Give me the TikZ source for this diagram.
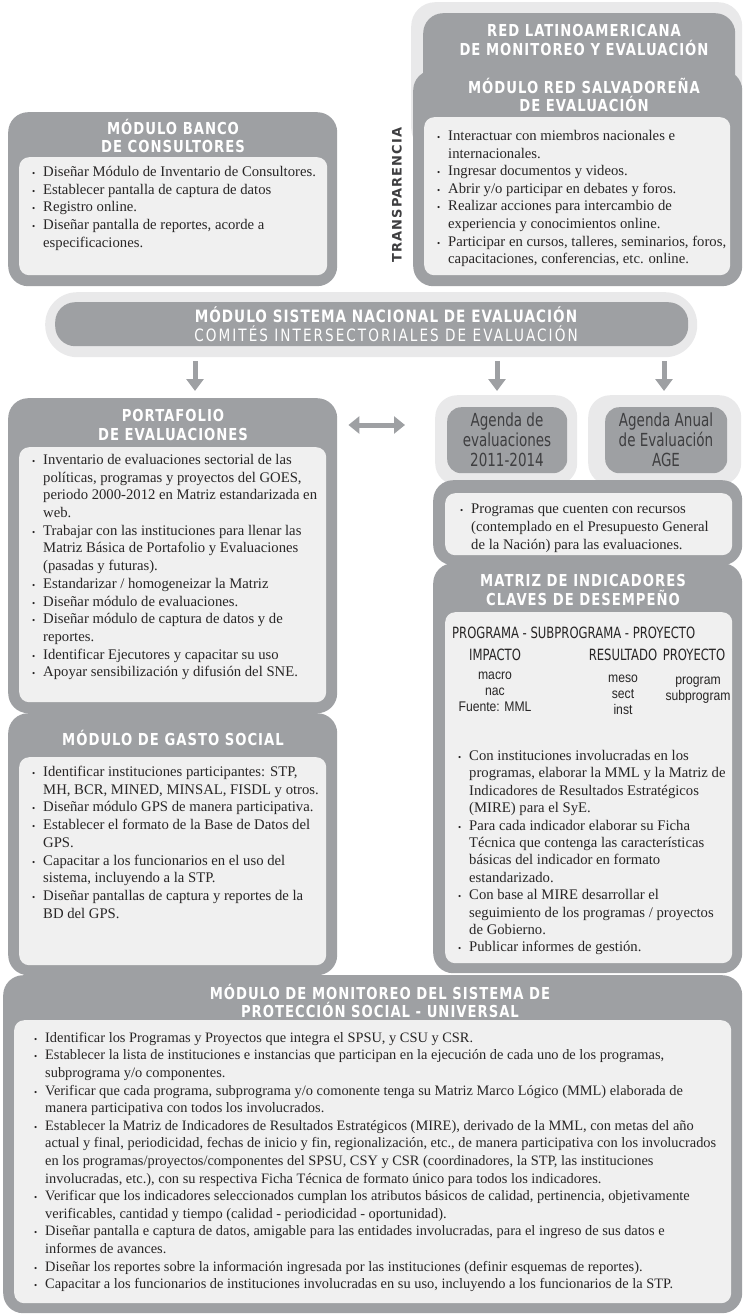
\documentclass[tikz,border=0pt]{standalone}
\usepackage{fontspec}
\setmainfont{Liberation Serif}
\newfontfamily\headfont[FakeStretch=0.8,LetterSpace=6]{DejaVu Sans}
\newfontfamily\widehead[FakeStretch=0.8,LetterSpace=12]{DejaVu Sans}
\newfontfamily\agendafont[FakeStretch=0.75]{DejaVu Sans}
\newfontfamily\smallsans[FakeStretch=0.87]{Liberation Sans}
\newfontfamily\sidefont[LetterSpace=8]{DejaVu Sans}
\usetikzlibrary{arrows.meta}

\definecolor{framegray}{RGB}{158,160,163}
\definecolor{panelgray}{RGB}{240,240,240}
\definecolor{halogray}{RGB}{233,233,234}
\definecolor{textgray}{RGB}{40,38,38}
\definecolor{sidegray}{RGB}{62,62,64}

\tikzstyle{line} = [draw=framegray, line width=5pt, -{Triangle[width=17pt,length=12pt]}]
\tikzstyle{dline} = [draw=framegray, line width=5pt, {Triangle[width=17pt,length=11pt]}-{Triangle[width=17pt,length=11pt]}]
\tikzstyle{frame} = [fill=framegray, rounded corners=20pt, inner sep=0pt, anchor=north west]
\tikzstyle{panel} = [fill=panelgray, rounded corners=10pt, inner sep=0pt, anchor=north west]
\tikzstyle{halo} = [fill=halogray, rounded corners=24pt, inner sep=0pt, anchor=north west]
\tikzstyle{title} = [text=white, align=center, inner sep=0pt, font=\fontsize{16.5}{18.5}\headfont\bfseries]
\tikzstyle{bullets} = [anchor=north west, inner sep=0pt, align=left, text=textgray, font=\fontsize{14.7}{17.7}\selectfont, execute at begin node={\rule{0pt}{13pt}}]
\tikzstyle{agenda} = [text=sidegray, align=center, inner sep=0pt, font=\fontsize{18}{20}\agendafont]
\tikzstyle{colhead} = [anchor=base, inner sep=0pt, text=textgray, font=\fontsize{15.5}{18}\agendafont]
\tikzstyle{colval} = [anchor=north, inner sep=0pt, align=center, text=textgray, font=\fontsize{14}{16}\smallsans, execute at begin node={\rule{0pt}{11pt}}]

\newcommand{\bul}{\llap{{\fontsize{9}{9}\selectfont\textbullet}\hspace{8pt}}}

\begin{document}
\begin{tikzpicture}[x=1pt, y=-1pt]
    \useasboundingbox (0,0) rectangle (742,1314);

    % red latinoamericana / red salvadorena
    \node[halo, minimum width=331pt, minimum height=150pt] (redh) at (411,2) {};
    \node[frame, minimum width=312pt, minimum height=80pt] (redla) at (423,13) {};
    \node[title] (redlat) at (584,40) {RED LATINOAMERICANA\\DE MONITOREO Y EVALUACIÓN};
    \node[frame, minimum width=329pt, minimum height=216pt] (salv) at (413,70) {};
    \node[title] (salvt) at (584,95) {MÓDULO RED SALVADOREÑA\\DE EVALUACIÓN};
    \node[panel, minimum width=306pt, minimum height=158pt] (salvp) at (424,117) {};
    \node[bullets, font=\fontsize{14.7}{17.6}\selectfont] (salvb) at (448,130) {\bul Interactuar con miembros nacionales e\\internacionales.\\\bul Ingresar documentos y videos.\\\bul Abrir y/o participar en debates y foros.\\\bul Realizar acciones para intercambio de\\experiencia y conocimientos online.\\\bul Participar en cursos, talleres, seminarios, foros,\\capacitaciones, conferencias, etc. online.};
    \node[rotate=90, text=sidegray, inner sep=0pt, font=\fontsize{13}{13}\sidefont\bfseries] (transp) at (397,195) {TRANSPARENCIA};

    % banco de consultores
    \node[frame, minimum width=329pt, minimum height=174pt] (banco) at (8,112) {};
    \node[title] (bancot) at (173,136) {MÓDULO BANCO\\DE CONSULTORES};
    \node[panel, minimum width=308pt, minimum height=118pt] (bancop) at (19,157) {};
    \node[bullets] (bancob) at (43,166) {\bul Diseñar Módulo de Inventario de Consultores.\\\bul Establecer pantalla de captura de datos\\\bul Registro online.\\\bul Diseñar pantalla de reportes, acorde a\\especificaciones.};

    % sistema nacional
    \node[halo, rounded corners=32pt, minimum width=652pt, minimum height=65pt] (sneh) at (45,292) {};
    \node[frame, minimum width=633pt, minimum height=44pt] (sne) at (55,302) {};
    \node[title, font=\fontsize{17}{19.5}\headfont\bfseries] (snet) at (386,324) {MÓDULO SISTEMA NACIONAL DE EVALUACIÓN\\{\widehead\mdseries COMITÉS INTERSECTORIALES DE EVALUACIÓN}};

    % portafolio
    \node[frame, minimum width=329pt, minimum height=315pt] (port) at (8,398) {};
    \node[title] (portt) at (173,425) {PORTAFOLIO\\DE EVALUACIONES};
    \node[panel, minimum width=307pt, minimum height=255pt] (portp) at (19,447) {};
    \node[bullets] (portb) at (43,454) {\bul Inventario de evaluaciones sectorial de las\\políticas, programas y proyectos del GOES,\\periodo 2000-2012 en Matriz estandarizada en\\web.\\\bul Trabajar con las instituciones para llenar las\\Matriz Básica de Portafolio y Evaluaciones\\(pasadas y futuras).\\\bul Estandarizar / homogeneizar la Matriz\\\bul Diseñar módulo de evaluaciones.\\\bul Diseñar módulo de captura de datos y de\\reportes.\\\bul Identificar Ejecutores y capacitar su uso\\\bul Apoyar sensibilización y difusión del SNE.};

    % gasto social
    \node[frame, minimum width=329pt, minimum height=262pt] (gasto) at (8,713) {};
    \node[title] (gastot) at (173,738) {MÓDULO DE GASTO SOCIAL};
    \node[panel, minimum width=307pt, minimum height=208pt] (gastop) at (19,757) {};
    \node[bullets] (gastob) at (43,766) {\bul Identificar instituciones participantes: STP,\\MH, BCR, MINED, MINSAL, FISDL y otros.\\\bul Diseñar módulo GPS de manera participativa.\\\bul Establecer el formato de la Base de Datos del\\GPS.\\\bul Capacitar a los funcionarios en el uso del\\sistema, incluyendo a la STP.\\\bul Diseñar pantallas de captura y reportes de la\\BD del GPS.};

    % agendas
    \node[halo, rounded corners=22pt, minimum width=142pt, minimum height=90pt] (ag1h) at (435,395) {};
    \node[frame, rounded corners=14pt, minimum width=120pt, minimum height=66pt] (ag1) at (447,407) {};
    \node[agenda] (ag1t) at (507,440) {Agenda de\\evaluaciones\\2011-2014};
    \node[halo, rounded corners=22pt, minimum width=153pt, minimum height=90pt] (ag2h) at (588,395) {};
    \node[frame, rounded corners=14pt, minimum width=122pt, minimum height=66pt] (ag2) at (605,407) {};
    \node[agenda] (ag2t) at (666,440) {Agenda Anual\\de Evaluación\\AGE};

    % programas con recursos
    \node[frame, minimum width=309pt, minimum height=85pt] (prog) at (433,480) {};
    \node[panel, minimum width=287pt, minimum height=62pt] (progp) at (445,493) {};
    \node[bullets, font=\fontsize{14.7}{18}\selectfont] (progb) at (471,504) {\bul Programas que cuenten con recursos\\(contemplado en el Presupuesto General\\de la Nación) para las evaluaciones.};

    % matriz de indicadores
    \node[frame, minimum width=309pt, minimum height=410pt] (matriz) at (433,563) {};
    \node[title] (matrizt) at (583,590) {MATRIZ DE INDICADORES\\CLAVES DE DESEMPEÑO};
    \node[panel, minimum width=287pt, minimum height=351pt] (matrizp) at (445,612) {};
    \node[colhead, anchor=base west] (mprog) at (452,638) {PROGRAMA - SUBPROGRAMA - PROYECTO};
    \node[colhead] (mimp) at (495,660) {IMPACTO};
    \node[colhead] (mres) at (623,660) {RESULTADO};
    \node[colhead] (mpro) at (694,660) {PROYECTO};
    \node[colval] (mimpv) at (495,672) {macro\\nac\\Fuente: MML};
    \node[colval] (mresv) at (623,675) {meso\\sect\\inst};
    \node[colval] (mprov) at (698,677) {program\\subprogram};
    \node[bullets, font=\fontsize{14.7}{17.4}\selectfont] (matrizb) at (469,750) {\bul Con instituciones involucradas en los\\programas, elaborar la MML y la Matriz de\\Indicadores de Resultados Estratégicos\\(MIRE) para el SyE.\\\bul Para cada indicador elaborar su Ficha\\Técnica que contenga las características\\básicas del indicador en formato\\estandarizado.\\\bul Con base al MIRE desarrollar el\\seguimiento de los programas / proyectos\\de Gobierno.\\\bul Publicar informes de gestión.};

    % monitoreo proteccion social
    \node[frame, minimum width=739pt, minimum height=338pt] (monit) at (3,975) {};
    \node[title] (monitt) at (380,1001) {MÓDULO DE MONITOREO DEL SISTEMA DE\\PROTECCIÓN SOCIAL - UNIVERSAL};
    \node[panel, minimum width=717pt, minimum height=283pt] (monitp) at (14,1020) {};
    \node[bullets, font=\fontsize{14.4}{17.6}\selectfont] (monitb) at (45,1032) {\bul Identificar los Programas y Proyectos que integra el SPSU, y CSU y CSR.\\\bul Establecer la lista de instituciones e instancias que participan en la ejecución de cada uno de los programas,\\subprograma y/o componentes.\\\bul Verificar que cada programa, subprograma y/o comonente tenga su Matriz Marco Lógico (MML) elaborada de\\manera participativa con todos los involucrados.\\\bul Establecer la Matriz de Indicadores de Resultados Estratégicos (MIRE), derivado de la MML, con metas del año\\actual y final, periodicidad, fechas de inicio y fin, regionalización, etc., de manera participativa con los involucrados\\en los programas/proyectos/componentes del SPSU, CSY y CSR (coordinadores, la STP, las instituciones\\involucradas, etc.), con su respectiva Ficha Técnica de formato único para todos los indicadores.\\\bul Verificar que los indicadores seleccionados cumplan los atributos básicos de calidad, pertinencia, objetivamente\\verificables, cantidad y tiempo (calidad - periodicidad - oportunidad).\\\bul Diseñar pantalla e captura de datos, amigable para las entidades involucradas, para el ingreso de sus datos e\\informes de avances.\\\bul Diseñar los reportes sobre la información ingresada por las instituciones (definir esquemas de reportes).\\\bul Capacitar a los funcionarios de instituciones involucradas en su uso, incluyendo a los funcionarios de la STP.};

    % arrows
    \coordinate (c1) at (195,0);
    \coordinate (c2) at (497,0);
    \coordinate (c3) at (664,0);
    \coordinate (c4) at (0,425);
    \path[line, shorten <=4pt, shorten >=7pt] (sneh.south -| c1) -- (port.north -| c1);
    \path[line, shorten <=4pt, shorten >=4pt] (sneh.south -| c2) -- (ag1h.north -| c2);
    \path[line, shorten <=4pt, shorten >=4pt] (sneh.south -| c3) -- (ag2h.north -| c3);
    \path[dline, shorten <=11pt, shorten >=30pt] (port.east |- c4) -- (ag1h.west |- c4);
\end{tikzpicture}
\end{document}
